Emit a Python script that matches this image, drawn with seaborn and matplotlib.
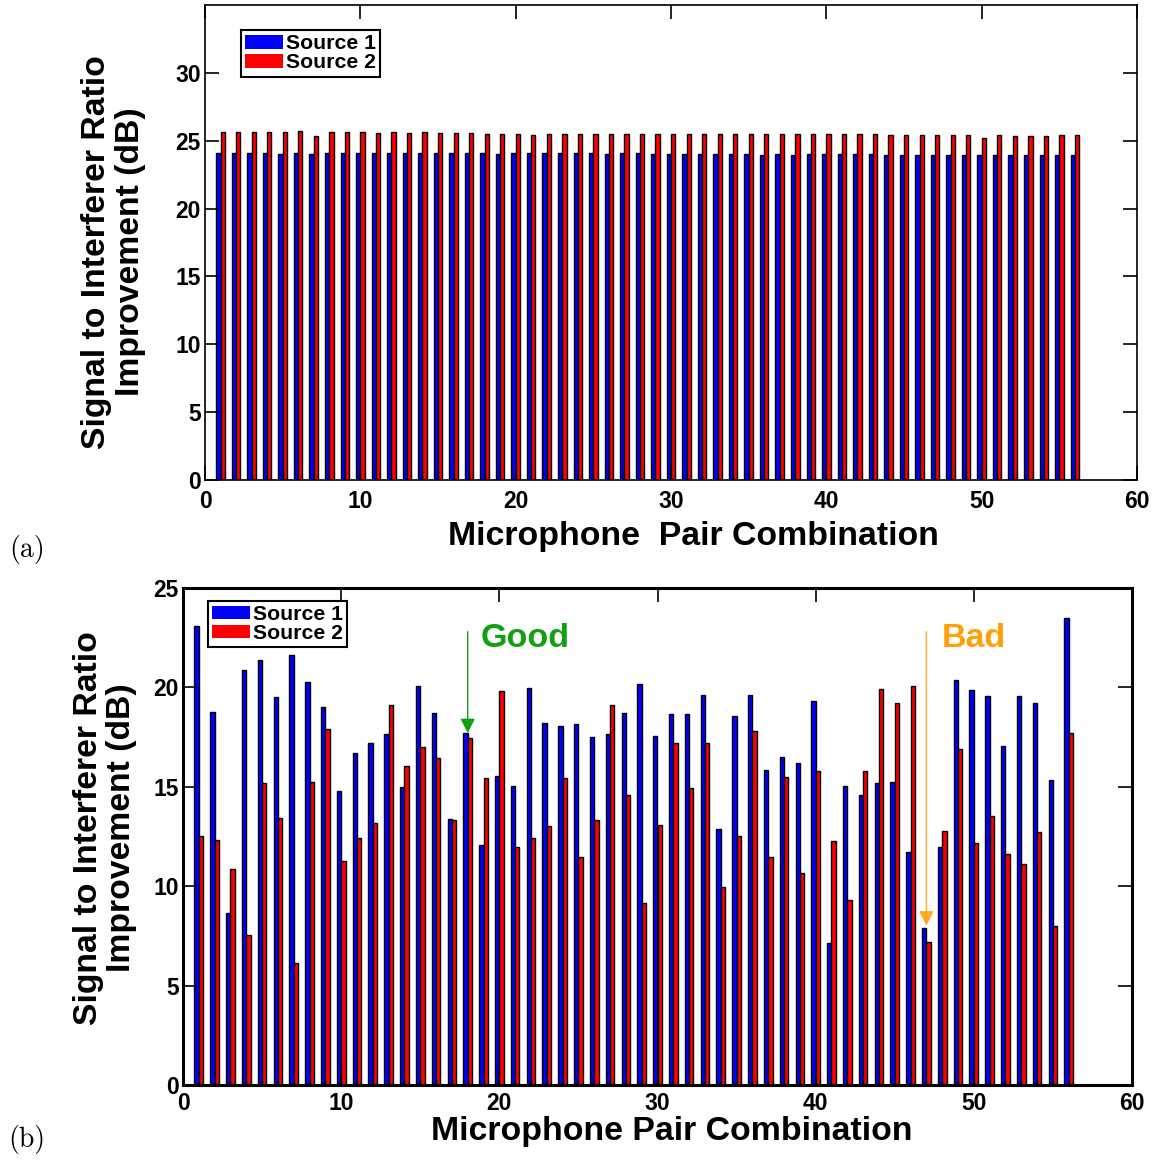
import numpy as np
import pandas as pd
import matplotlib
matplotlib.use("Agg")
import matplotlib.pyplot as plt
import seaborn as sns

# ---------------- data ----------------
pairs = list(range(1, 57))

source1_a = [24.11, 24.11, 24.11, 24.11, 24.04, 24.11, 24.04, 24.11, 24.11, 24.11,
             24.11, 24.11, 24.11, 24.11, 24.11, 24.11, 24.11, 24.11, 24.04, 24.11,
             24.11, 24.11, 24.11, 24.11, 24.11, 24.04, 24.11, 24.11, 24.04, 24.04,
             24.04, 24.04, 24.04, 24.04, 24.04, 23.97, 24.04, 23.97, 24.04, 24.04,
             24.04, 24.04, 24.04, 23.97, 23.97, 23.97, 23.97, 23.97, 23.97, 23.97,
             23.97, 23.97, 23.97, 23.97, 23.97, 23.97]
source2_a = [25.62, 25.62, 25.62, 25.62, 25.62, 25.69, 25.32, 25.62, 25.62, 25.62,
             25.55, 25.62, 25.55, 25.62, 25.55, 25.55, 25.55, 25.47, 25.47, 25.47,
             25.42, 25.49, 25.49, 25.49, 25.49, 25.49, 25.49, 25.49, 25.49, 25.49,
             25.49, 25.49, 25.49, 25.49, 25.49, 25.49, 25.49, 25.49, 25.49, 25.49,
             25.49, 25.49, 25.49, 25.42, 25.42, 25.42, 25.42, 25.42, 25.42, 25.18,
             25.42, 25.35, 25.35, 25.35, 25.42, 25.42]

source1_b = [23.07, 18.76, 8.67, 20.86, 21.38, 19.51, 21.63, 20.27, 19.01, 14.77,
             16.71, 17.20, 17.67, 14.97, 20.05, 18.71, 13.37, 17.70, 12.05, 15.54,
             15.05, 19.97, 18.22, 18.05, 18.14, 17.50, 17.67, 18.71, 20.17, 17.55,
             18.64, 18.67, 19.60, 12.90, 18.56, 19.60, 15.84, 16.51, 16.22, 19.30,
             7.13, 15.03, 14.58, 15.17, 15.23, 11.74, 7.92, 11.96, 20.39, 19.88,
             19.55, 17.05, 19.55, 19.21, 15.32, 23.47]
source2_b = [12.53, 12.33, 10.86, 7.53, 15.17, 13.42, 6.12, 15.25, 17.89, 11.29,
             12.42, 13.20, 19.13, 16.04, 17.00, 16.46, 13.34, 17.45, 15.42, 19.83,
             11.96, 12.42, 13.04, 15.42, 11.46, 13.34, 19.09, 14.58, 9.16, 13.09,
             17.20, 14.92, 17.20, 9.95, 12.55, 17.80, 11.46, 15.49, 10.67, 15.79,
             12.25, 9.30, 15.79, 19.93, 19.21, 20.05, 7.20, 12.80, 16.91, 12.16,
             13.52, 11.63, 11.11, 12.75, 7.99, 17.73]

series_names = ["Source 1", "Source 2"]
x_ticks = [0, 10, 20, 30, 40, 50, 60]
y_ticks_a = [0, 5, 10, 15, 20, 25, 30]
y_ticks_b = [0, 5, 10, 15, 20, 25]
ylabel_text = "Signal to Interferer Ratio\nImprovement (dB)"
xlabel_a = "Microphone  Pair Combination"
xlabel_b = "Microphone Pair Combination"
good_pair, good_value = 18, 17.7
bad_pair, bad_value = 47, 7.92


def long_df(s1, s2):
    return pd.DataFrame({
        "pair": pairs * 2,
        "sir": list(s1) + list(s2),
        "source": [series_names[0]] * len(pairs) + [series_names[1]] * len(pairs),
    })


plt.rcParams["font.family"] = ["Liberation Sans", "DejaVu Sans"]
plt.rcParams["font.weight"] = "bold"

W, H = 1170, 1161
fig = plt.figure(figsize=(W / 100, H / 100), dpi=100)


def px_axes(left, top, right, bottom):
    return fig.add_axes([left / W, 1 - bottom / H, (right - left) / W, (bottom - top) / H])


ax_a = px_axes(205, 5, 1137, 480)
ax_b = px_axes(183, 588, 1132, 1085)

palette = {series_names[0]: "#0000ff", series_names[1]: "#ff0000"}

for ax, s1, s2, ylim, yt, spine_lw, xpad in [
    (ax_a, source1_a, source2_a, 35, y_ticks_a, 1.2, 7),
    (ax_b, source1_b, source2_b, 25, y_ticks_b, 2.2, 5),
]:
    sns.barplot(data=long_df(s1, s2), x="pair", y="sir", hue="source",
                native_scale=True, width=0.55, dodge=True, palette=palette,
                saturation=1, edgecolor="black", linewidth=1.0,
                errorbar=None, ax=ax)
    ax.set_xlim(0, 60)
    ax.set_ylim(0, ylim)
    ax.set_xticks(x_ticks)
    ax.set_yticks(yt)
    ax.tick_params(axis="both", direction="in", length=10, width=1.2, top=True,
                   right=True, labelsize=16.5)
    ax.tick_params(axis="x", pad=xpad)
    ax.tick_params(axis="y", pad=3)
    for lab in ax.get_xticklabels() + ax.get_yticklabels():
        lab.set_fontweight("bold")
    for sp in ax.spines.values():
        sp.set_linewidth(spine_lw)
        sp.set_color("black")
    ax.set_facecolor("white")

# labels
ax_a.set_ylabel(ylabel_text, fontsize=24.3, fontweight="bold", ha="center", va="center",
                linespacing=1.1)
ax_a.yaxis.set_label_coords(-0.098, 0.48)
ax_b.set_ylabel(ylabel_text, fontsize=24.3, fontweight="bold", ha="center", va="center",
                linespacing=1.1)
ax_b.yaxis.set_label_coords(-0.082, 0.517)

ax_a.set_xlabel(xlabel_a, fontsize=24.4, fontweight="bold", ha="center", va="center")
ax_a.xaxis.set_label_coords(0.524, -0.118)
ax_b.set_xlabel(xlabel_b, fontsize=24.4, fontweight="bold", ha="center", va="center")
ax_b.xaxis.set_label_coords(0.515, -0.094)

# legends
for ax, anchor in [(ax_a, (0.0386, 0.947)), (ax_b, (0.0263, 0.974))]:
    handles, labels = ax.get_legend_handles_labels()
    leg = ax.legend(handles, labels, loc="upper left", bbox_to_anchor=anchor,
                    borderaxespad=0, fancybox=False, framealpha=1,
                    edgecolor="black", handlelength=1.8,
                    handleheight=0.6, handletextpad=0.1, labelspacing=0.0,
                    borderpad=0.2, prop={"weight": "bold", "size": 15.3})
    leg.get_frame().set_linewidth(1.5)
    for h in leg.legend_handles:
        h.set_edgecolor("none")

# annotations on panel (b)
green = "#12a012"
orange = "#ff9f0a"
ax_b.annotate("", xy=(good_pair, good_value), xytext=(good_pair, 22.8),
              arrowprops=dict(arrowstyle="-|>", color=green, lw=1.0,
                              mutation_scale=22, shrinkA=0, shrinkB=0))
ax_b.text(good_pair + 0.8, 22.45, "Good", color=green, fontsize=24.5,
          fontweight="bold", ha="left", va="center")
ax_b.annotate("", xy=(bad_pair, bad_value + 0.1), xytext=(bad_pair, 22.8),
              arrowprops=dict(arrowstyle="-|>", color=orange, lw=1.0, alpha=0.85,
                              mutation_scale=22, shrinkA=0, shrinkB=0))
ax_b.text(bad_pair + 0.95, 22.45, "Bad", color=orange, fontsize=24.5,
          fontweight="bold", ha="left", va="center")

# panel letters
fig.text(27 / W, 1 - 550 / H, "(a)", fontsize=20, family="cmr10",
         fontweight="normal", ha="center", va="center")
fig.text(27 / W, 1 - 1140 / H, "(b)", fontsize=20, family="cmr10",
         fontweight="normal", ha="center", va="center")

fig.savefig("out.png", dpi=100, facecolor="white")
